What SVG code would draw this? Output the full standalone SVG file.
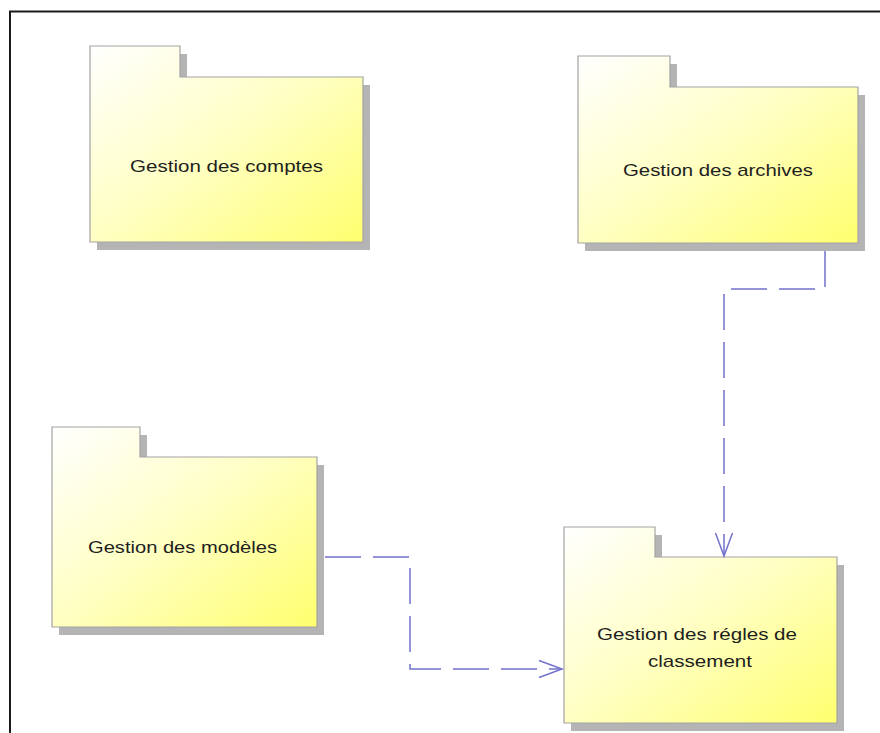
<svg xmlns="http://www.w3.org/2000/svg" width="880" height="733" viewBox="0 0 880 733">
  <defs>
    <linearGradient id="pkgFill" x1="0" y1="0" x2="1" y2="1">
      <stop offset="0" stop-color="#ffffff"/>
      <stop offset="0.5" stop-color="#ffffc2"/>
      <stop offset="1" stop-color="#ffff6e"/>
    </linearGradient>
    <marker id="openArrow" markerUnits="userSpaceOnUse" markerWidth="30" markerHeight="20" refX="0" refY="0" viewBox="-26 -10 30 20" orient="auto" overflow="visible">
      <path d="M -23,-8.5 L 0,0 L -23,8.5" fill="none" stroke="#7272cc" stroke-width="1.5"/>
    </marker>
    <style>
      .shadow { fill: #b4b4b4; }
      .pkg { fill: url(#pkgFill); stroke: #a3a3a3; stroke-width: 1.2; }
      .label { font-family: "Liberation Sans", Arial, sans-serif; font-size: 17px; fill: #1e1e1e; text-anchor: middle; }
      .dep { fill: none; stroke: #7272cc; stroke-width: 1.5; stroke-dasharray: 36 12; marker-end: url(#openArrow); }
      .frame { stroke: #1a1a1a; stroke-width: 2; fill: none; }
    </style>
  </defs>

  <rect width="880" height="733" fill="#ffffff"/>

  <!-- frame (top and left edges) -->
  <path class="frame" d="M 10,733 V 11.5 H 880"/>

  <!-- packages -->
  <g id="pkg-comptes">
    <path class="shadow" d="M 97,54 H 187 V 85 H 370 V 250 H 97 Z"/>
    <path class="pkg" d="M 90,46 H 180 V 77 H 363 V 242 H 90 Z"/>
    <text class="label" x="226.5" y="171.5" textLength="193" lengthAdjust="spacingAndGlyphs">Gestion des comptes</text>
  </g>

  <g id="pkg-archives">
    <path class="shadow" d="M 585,64 H 677 V 95 H 865 V 251 H 585 Z"/>
    <path class="pkg" d="M 578,56 H 670 V 87 H 858 V 243 H 578 Z"/>
    <text class="label" x="718" y="176" textLength="190" lengthAdjust="spacingAndGlyphs">Gestion des archives</text>
  </g>

  <g id="pkg-modeles">
    <path class="shadow" d="M 59,435 H 147 V 465 H 324 V 635 H 59 Z"/>
    <path class="pkg" d="M 52,427 H 140 V 457 H 317 V 627 H 52 Z"/>
    <text class="label" x="182.5" y="553" textLength="189" lengthAdjust="spacingAndGlyphs">Gestion des modèles</text>
  </g>

  <g id="pkg-regles">
    <path class="shadow" d="M 571,535 H 662 V 565 H 844 V 731 H 571 Z"/>
    <path class="pkg" d="M 564,527 H 655 V 557 H 837 V 723 H 564 Z"/>
    <text class="label" x="697" y="640" textLength="200" lengthAdjust="spacingAndGlyphs">Gestion des régles de</text>
    <text class="label" x="700" y="666.5" textLength="104" lengthAdjust="spacingAndGlyphs">classement</text>
  </g>

  <!-- dependencies -->
  <g id="connectors">
    <path class="dep" d="M 825,251 V 289 H 724 V 556"/>
    <path class="dep" d="M 325,557 H 410 V 669 H 562"/>
  </g>
</svg>
